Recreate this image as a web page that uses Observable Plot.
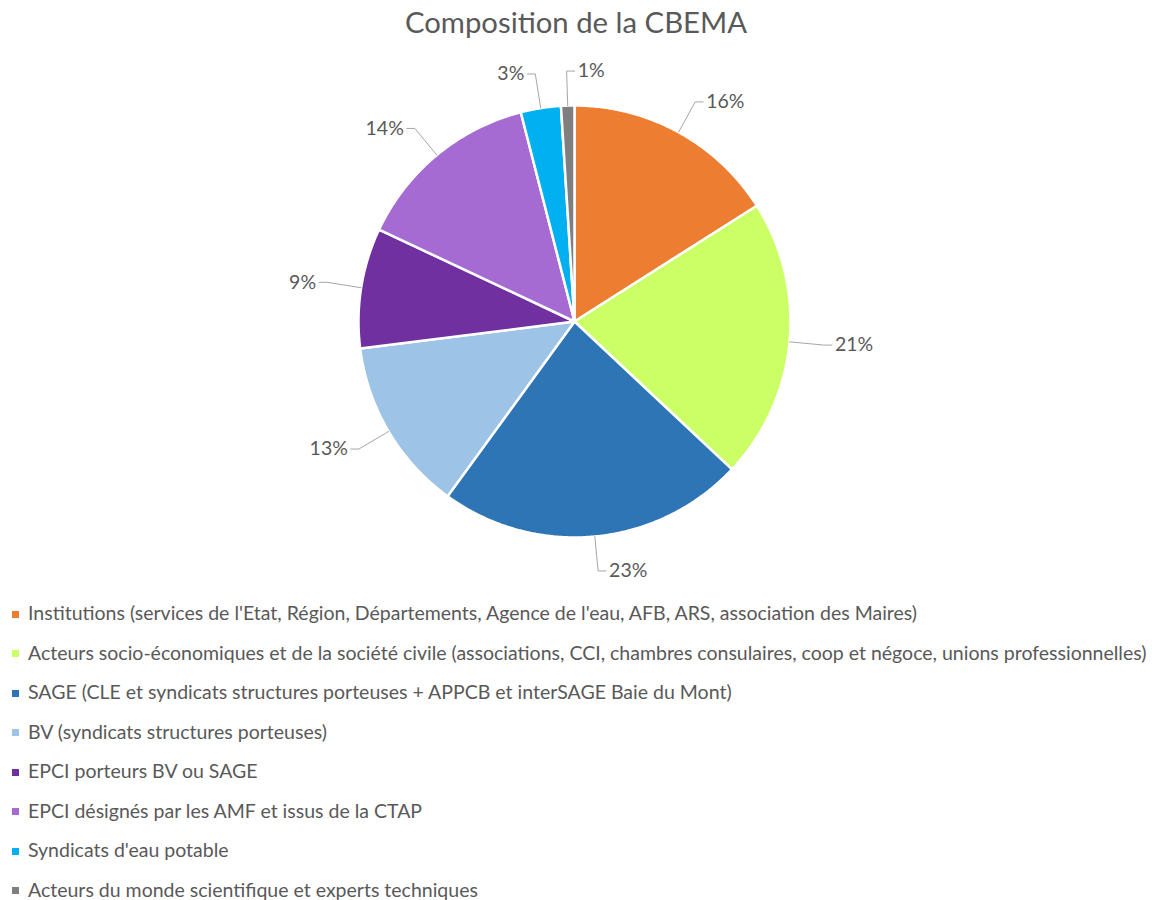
<!DOCTYPE html>
<html>
<head>
<meta charset="utf-8">
<script src="https://cdn.jsdelivr.net/npm/d3@7"></script>
<script src="https://cdn.jsdelivr.net/npm/@observablehq/plot@0.6"></script>
<style>
  html, body { margin: 0; padding: 0; background: #fff; }
  body { width: 1152px; height: 900px; overflow: hidden; font-family: Lato, "Open Sans", sans-serif; color: #595959; }
  #title { height: 44px; line-height: 44px; text-align: center; font-size: 29.3px; }
  #chart svg { display: block; }
  #legend { padding-left: 12px; }
  .item { height: 39.5px; line-height: 39.5px; font-size: 19.5px; white-space: nowrap; }
  .sw { display: inline-block; width: 7px; height: 7px; margin-right: 9px; vertical-align: middle; position: relative; top: -1px; }
</style>
</head>
<body>
<div id="title">Composition de la CBEMA</div>
<div id="chart"></div>
<div id="legend"></div>
<script>
// ---- data ----
const categories = [
  "Institutions (services de l'Etat, Région, Départements, Agence de l'eau, AFB, ARS, association des Maires)",
  "Acteurs socio-économiques et de la société civile (associations, CCI, chambres consulaires, coop et négoce, unions professionnelles)",
  "SAGE (CLE et syndicats structures porteuses + APPCB et interSAGE Baie du Mont)",
  "BV (syndicats structures porteuses)",
  "EPCI porteurs BV ou SAGE",
  "EPCI désignés par les AMF et issus de la CTAP",
  "Syndicats d'eau potable",
  "Acteurs du monde scientifique et experts techniques"
];
const values = [16, 21, 23, 13, 9, 14, 3, 1];
const colors = ["#ED7D31", "#CCFF66", "#2E75B6", "#9DC3E6", "#7030A0", "#A66BD3", "#00B0F0", "#7F7F7F"];

// ---- layout ----
const W = 1152, H = 549;
const R = 216;            // pie radius in px
const cx = 574, cy = 277; // pie centre in svg px
const px = 1 / R;         // one pixel in data units

const total = d3.sum(values);
let acc = 0;
const slices = values.map((v, i) => {
  const a0 = acc / total * 2 * Math.PI;
  acc += v;
  const a1 = acc / total * 2 * Math.PI;
  return {cat: categories[i], v, a0, a1, mid: (a0 + a1) / 2};
});

// wedge outlines (angle clockwise from 12 o'clock)
const wedgePts = [];
for (const s of slices) {
  const n = Math.max(2, Math.ceil((s.a1 - s.a0) / (Math.PI / 360)));
  wedgePts.push({cat: s.cat, x: 0, y: 0});
  for (let k = 0; k <= n; k++) {
    const a = s.a0 + (s.a1 - s.a0) * k / n;
    wedgePts.push({cat: s.cat, x: Math.sin(a), y: Math.cos(a)});
  }
  wedgePts.push({cat: s.cat, x: 0, y: 0});
}

// leader lines and labels
const leaderPts = [];
const labels = [];
for (const s of slices) {
  const sx = Math.sin(s.mid), sy = Math.cos(s.mid);
  const right = sx >= -0.05;
  const dir = right ? 1 : -1;
  const ex = sx * 1.16, ey = sy * 1.16;
  const tx = ex + dir * 8 * px;
  leaderPts.push({cat: s.cat, x: sx, y: sy});
  leaderPts.push({cat: s.cat, x: ex, y: ey});
  leaderPts.push({cat: s.cat, x: tx, y: ey});
  labels.push({x: tx, y: ey, text: s.v + "%", right});
}

const chart = Plot.plot({
  width: W,
  height: H,
  margin: 0,
  x: {domain: [-cx / R, (W - cx) / R], axis: null},
  y: {domain: [-(H - cy) / R, cy / R], axis: null},
  color: {domain: categories, range: colors},
  style: {fontFamily: "Lato, 'Open Sans', sans-serif", color: "#595959", background: "white"},
  marks: [
    Plot.line(wedgePts, {x: "x", y: "y", z: "cat", fill: "cat", stroke: "white", strokeWidth: 2.5, strokeLinejoin: "round", curve: "linear"}),
    Plot.line(leaderPts, {x: "x", y: "y", z: "cat", stroke: "#a6a6a6", strokeWidth: 1}),
    Plot.text(labels.filter(d => d.right), {x: "x", y: "y", text: "text", textAnchor: "start", dx: 3, fontSize: 19.5, fill: "#595959"}),
    Plot.text(labels.filter(d => !d.right), {x: "x", y: "y", text: "text", textAnchor: "end", dx: -3, fontSize: 19.5, fill: "#595959"})
  ]
});
document.getElementById("chart").appendChild(chart);

const legend = document.getElementById("legend");
categories.forEach((c, i) => {
  const row = document.createElement("div");
  row.className = "item";
  const sw = document.createElement("span");
  sw.className = "sw";
  sw.style.background = colors[i];
  row.appendChild(sw);
  row.appendChild(document.createTextNode(c));
  legend.appendChild(row);
});
</script>
</body>
</html>
